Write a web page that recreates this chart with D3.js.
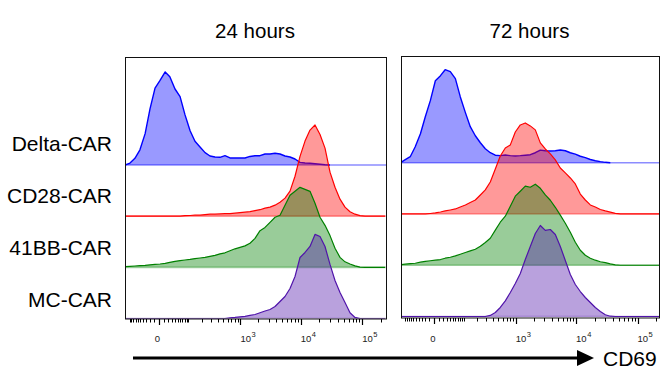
<!DOCTYPE html>
<html>
<head>
<meta charset="utf-8">
<script src="https://cdn.jsdelivr.net/npm/d3@7"></script>
<style>
  html, body { margin: 0; padding: 0; background: #fff; }
  svg { display: block; font-family: "Liberation Sans", Arial, sans-serif; }
</style>
</head>
<body>
<svg id="chart" width="661" height="371"></svg>
<script>
// ---------------- data ----------------
const samples = ["Delta-CAR", "CD28-CAR", "41BB-CAR", "MC-CAR"];
const timepoints = ["24 hours", "72 hours"];
const axisLabel = "CD69";

// CD69 intensity bin centres (biexponential display)
const cd69Bins = [-128, -98, -73, -52, -34, -20, -8, 2, 13, 25, 41, 60, 82, 110, 142, 182, 230, 287, 356, 440,
  540, 662, 809, 985, 1198, 1454, 1764, 2138, 2589, 3131, 3786, 4574, 5525, 6670, 8055, 9720, 11730, 14150,
  17070, 20600, 24840, 29960, 36130, 43570, 52540, 63350, 76400, 92100, 111000, 134000, 161500, 194700, 234700];

// normalised to mode (% of max), 24 hours
const delta24 = [0,2,7,16,33,59,81,89,98,93, 80,72,53,36,25,19,13,9.5,8.4,8.1, 9.8,7.4,7.4,7.4,7.4,9,9.8,9.8,11.6,11.6,
  12.3,11.6,9.5,8.4,6.3,2.8,2.1,1.8,1.3,0.8, 0.3,0,0,0,0,0,0,0,0,0, 0,0,0];
const cd28_24 = [0,0,0,0,0,0,0,0,0,0, 0,0,0.5,0.7,1,1,1.6,2.1,2.1,2.4, 2.6,2.6,3.2,3.7,4.2,4.7,5.8,6.8,8.4,9.5,
  11.6,14.7,19,26.3,42,63,79,90.6,96,86, 71.6,46.3,30.5,17.9,9.5,4.7,2.1,0.6,0,0, 0,0,0];
const bb41_24 = [0.7,1.1,1.4,1.8,2.1,2.6,3.2,3.5,4.2,5.3, 6.3,7.1,7.7,8.4,9.2,9.8,10.5,11.6,12.6,14.2,
  15.3,17.4,19.5,21,22.6,25.3,30.5,38.6,42,47.4, 52.7,54.8,65.3,75.8,80,84.2,82.1,80,67.4,52.7,
  44.2,33.4,20,10.5,5.8,3.5,1.6,0.3,0,0, 0,0,0];
const mc24 = [0,0,0,0,0,0,0,0,0,0, 0,0,0,0,0,0,0,0,0,0, 0,0.7,1.1,1.8,2.3,3.2,4.2,6,7.9,9.5,
  12.6,17.9,23.2,31.6,44.2,64.2,69.5,75.8,88.5,86.3, 75.8,56.9,40,27.4,16.8,6,1.1,0,0,0, 0,0,0];

// normalised to mode (% of max), 72 hours
const delta72 = [0,3.2,6.3,16.8,30.5,48.4,65.3,86.3,91.6,97.9, 95.8,88.5,69.5,52.7,37.9,28.4,21,14.7,10.5,7.9,
  7.4,8.1,7.4,7.1,7.4,7.9,8.4,10.5,13.2,12.6, 12.3,12.6,13.4,12.6,10.5,9,6.8,5.3,3.4,2.1,
  1.1,0.4,0,0,0,0,0,0,0,0, 0,0,0];
const cd28_72 = [0,0,0,0,0,0,0.5,1.1,2.1,3.2, 4.2,5.3,7.4,9.5,12.1,14.7,20,25.3,33.7,47.4,
  61,69.5,72.7,86.3,93.7,95.8,92.7,88.5,74.8,68.4, 63.2,56.9,48.4,43.2,37.9,31.6,21,14.7,9.5,7.4,
  4.7,3.2,1.9,0.7,0,0,0,0,0,0, 0,0,0];
const bb41_72 = [0.5,1.1,1.6,2.1,3.2,4,4.7,5.3,6,7.4, 8.4,9.8,11.6,13.4,15.1,16.8,20,23.9,28.4,36.9,
  45.3,51.6,62.1,72.7,77.9,83.2,82.1,85.3,81,74, 68.4,61,52.7,44.2,34.7,24.2,15.8,10.5,7.4,5.3,
  3.7,2.8,1.4,0.3,0,0,0,0,0,0, 0,0,0];
const mc72 = [0,0,0,0,0,0,0,0,0,0, 0,0,0,0,0,0,0,0,1.1,4.2, 9.5,16.5,25.3,34.7,45.3,60,73.7,87.4,95.8,90.6,
  91.6,86.3,73.7,59,44.2,33.7,26.3,20,14.7,9.5, 5.3,1.8,0.3,0,0,0,0,0,0,0, 0,0,0];

const seriesByTime = [
  [delta24, cd28_24, bb41_24, mc24],
  [delta72, cd28_72, bb41_72, mc72]
];
const sampleColors = ["#0000ff", "#ff0000", "#008000", "#5014aa"];

// axis ticks
const majorTicks = [0, 1e3, 1e4, 1e5];
const majorExp = [null, "3", "4", "5"];
const minorTicks = [-100, -90, -80, -70, -60, -50, -40, -30, -20, -10, 10, 20, 30, 40, 50, 60, 70, 80, 90,
  100, 200, 300, 400, 500, 600, 700, 800, 900, 2000, 3000, 4000, 5000, 6000, 7000, 8000, 9000,
  20000, 30000, 40000, 50000, 60000, 70000, 80000, 90000, 200000];

// ---------------- layout ----------------
const svg = d3.select("#chart");
const panels = [
  { x0: 125, x1: 387, y0: 57, y1: 318.5, zeroPx: 159, maxPx: 362.2, rows: [165, 318.5] },
  { x0: 401, x1: 660, y0: 56, y1: 317.5, zeroPx: 434.3, maxPx: 637.5, rows: [162.7, 316.5] }
];
const yUnit = d3.scaleLinear().domain([0, 100]).range([0, 95]);

panels.forEach((p, pi) => {
  const x = d3.scaleSymlog().constant(50).domain([0, 1e5]).range([p.zeroPx, p.maxPx]);
  const row = d3.scalePoint().domain(samples).range(p.rows);
  const g = svg.append("g");
  const clipId = "clip" + pi;
  svg.append("clipPath").attr("id", clipId)
    .append("rect").attr("x", p.x0).attr("y", p.y0).attr("width", p.x1 - p.x0).attr("height", p.y1 - p.y0);
  const plot = g.append("g").attr("clip-path", `url(#${clipId})`);

  samples.forEach((s, si) => {
    const vals = seriesByTime[pi][si];
    const base = row(s);
    const col = sampleColors[si];
    const pts = cd69Bins.map((b, i) => ({ b, v: vals[i], i }));
    // baseline (light)
    plot.append("line")
      .attr("x1", p.x0).attr("x2", p.x1).attr("y1", base).attr("y2", base)
      .attr("stroke", col).attr("stroke-opacity", si === 0 ? 0.45 : 0.35).attr("stroke-width", 1.6);
    const area = d3.area()
      .x(d => x(d.b)).y0(base).y1(d => base - yUnit(d.v));
    plot.append("path").datum(pts)
      .attr("d", area).attr("fill", col).attr("fill-opacity", 0.4);
    const line = d3.line()
      .defined(d => si !== 0 || d.v > 0 || (vals[d.i - 1] || 0) > 0 || (vals[d.i + 1] || 0) > 0)
      .x(d => x(d.b)).y(d => base - yUnit(d.v));
    plot.append("path").datum(pts)
      .attr("d", line).attr("fill", "none").attr("stroke", col)
      .attr("stroke-width", si === 0 ? 1.4 : 1.2).attr("stroke-linejoin", "round");
  });

  // frame
  g.append("rect")
    .attr("x", p.x0 + 0.5).attr("y", p.y0 + 0.5)
    .attr("width", p.x1 - p.x0 - 1).attr("height", p.y1 - p.y0)
    .attr("fill", "none").attr("stroke", "#111").attr("stroke-width", 1);

  // ticks
  const axisY = p.y1 + 0.5;
  minorTicks.forEach(t => {
    const tx = Math.round(x(t)) + 0.5;
    if (tx < p.x0 || tx > p.x1) return;
    g.append("line").attr("x1", tx).attr("x2", tx).attr("y1", axisY).attr("y2", axisY + 3.5)
      .attr("stroke", "#000").attr("stroke-width", 1);
  });
  majorTicks.forEach((t, ti) => {
    const tx = Math.round(x(t)) + 0.5;
    g.append("line").attr("x1", tx).attr("x2", tx).attr("y1", axisY).attr("y2", axisY + 6)
      .attr("stroke", "#000").attr("stroke-width", 1.2);
    if (majorExp[ti] === null) {
      g.append("text").attr("x", x(t) - 1.5).attr("y", 341.5)
        .attr("text-anchor", "middle").attr("font-size", 9.5).attr("fill", "#222").text("0");
    } else {
      const tt = g.append("text").attr("x", x(t)).attr("y", 341.5)
        .attr("font-size", 9.5).attr("fill", "#222");
      tt.append("tspan").text("10");
      tt.append("tspan").attr("font-size", 7.5).attr("dy", -5).attr("dx", 0.5).text(majorExp[ti]);
    }
  });

  // title
  svg.append("text").attr("x", (p.x0 + p.x1) / 2 - 1).attr("y", 38)
    .attr("text-anchor", "middle").attr("font-size", 20.5).attr("fill", "#000")
    .text(timepoints[pi]);
});

// row labels
const labelY = d3.scalePoint().domain(samples).range([150.7, 306.7]);
samples.forEach(s => {
  svg.append("text").attr("x", 112).attr("y", labelY(s))
    .attr("text-anchor", "end").attr("font-size", 21).attr("fill", "#000").text(s);
});

// arrow and axis title
svg.append("line").attr("x1", 133).attr("x2", 580).attr("y1", 358).attr("y2", 358)
  .attr("stroke", "#000").attr("stroke-width", 3);
svg.append("path").attr("d", "M577,350 L594,358 L577,366 Z").attr("fill", "#000");
svg.append("text").attr("x", 603).attr("y", 366).attr("font-size", 21).attr("fill", "#000").text(axisLabel);
</script>
</body>
</html>
